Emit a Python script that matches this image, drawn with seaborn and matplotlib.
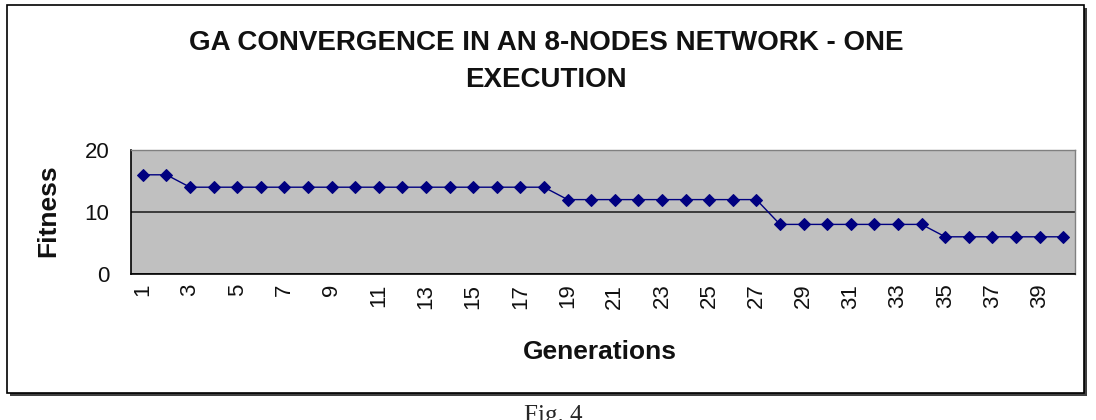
import matplotlib
matplotlib.use("Agg")
import matplotlib.pyplot as plt
import seaborn as sns
import pandas as pd
from matplotlib.patches import Rectangle

generations = list(range(1, 41))
fitness = [16, 16] + [14] * 16 + [12] * 9 + [8] * 7 + [6] * 6
tick_labels = [str(g) for g in generations[::2]]
title = "GA CONVERGENCE IN AN 8-NODES NETWORK - ONE\nEXECUTION"

sns.set_style("white")
plt.rcParams['font.family'] = ['Liberation Sans', 'DejaVu Sans']

df = pd.DataFrame({"Generations": generations, "Fitness": fitness})

fig = plt.figure(figsize=(10.96, 4.2), dpi=100)
# outer chart frame with shadow
fig.patches.append(Rectangle((10 / 1096, 1 - 396 / 420), 1077 / 1096, 388 / 420,
                             transform=fig.transFigure, facecolor='#404040',
                             edgecolor='none', zorder=-2))
fig.patches.append(Rectangle((7 / 1096, 1 - 393 / 420), 1077 / 1096, 388 / 420,
                             transform=fig.transFigure, facecolor='white',
                             edgecolor='black', linewidth=1.2, zorder=-1))

ax = fig.add_axes([131 / 1096, 1 - 274 / 420, (1075 - 131) / 1096, (274 - 150) / 420])
ax.set_facecolor('#C0C0C0')
sns.lineplot(data=df, x="Generations", y="Fitness", ax=ax, color='#000080',
             marker='D', markersize=6, markeredgecolor='#000080', linewidth=1.0,
             zorder=3)

ax.set_xlim(0.5, 40.5)
ax.set_ylim(0, 20)
ax.set_yticks([0, 10, 20])
ax.yaxis.grid(True, color='#303030', linewidth=1.3)
ax.set_axisbelow(True)

ax.set_xticks([g - 0.5 for g in generations] + [40.5], minor=False)
ax.set_xticklabels([''] * 41)
ax.set_xticks(generations[::2], minor=True)
ax.set_xticklabels(tick_labels, minor=True, rotation=90, fontsize=16, color='#111111')
ax.tick_params(axis='x', which='major', direction='out', length=6, width=1, color='black')
ax.tick_params(axis='x', which='minor', length=0, pad=7)
ax.tick_params(axis='y', direction='out', length=6.5, width=1, color='black', labelsize=16, pad=9,
               labelcolor='#111111')

for s in ['left', 'bottom']:
    ax.spines[s].set_color('black')
    ax.spines[s].set_linewidth(1.2)
for s in ['top', 'right']:
    ax.spines[s].set_color('#808080')
    ax.spines[s].set_linewidth(1.0)

ax.set_xlabel("Generations", fontsize=19, fontweight='bold', color='#111111')
ax.set_ylabel("Fitness", fontsize=19, fontweight='bold', color='#111111')
ax.xaxis.set_label_coords((600 - 131) / (1075 - 131), -(352 - 274) / (274 - 150))
ax.xaxis.label.set_va('center')
ax.yaxis.set_label_coords(-(131 - 48) / (1075 - 131), (274 - 211) / (274 - 150))
ax.yaxis.label.set_va('center')

fig.text(546 / 1096, 1 - 61.5 / 420, title, ha='center', va='center',
         fontsize=20, fontweight='bold', linespacing=1.52, color='#111111')
fig.text(553 / 1096, 1 - 405 / 420, "Fig. 4", ha='center', va='top',
         fontsize=18, family='Liberation Serif')

fig.savefig("out.png", dpi=100)
